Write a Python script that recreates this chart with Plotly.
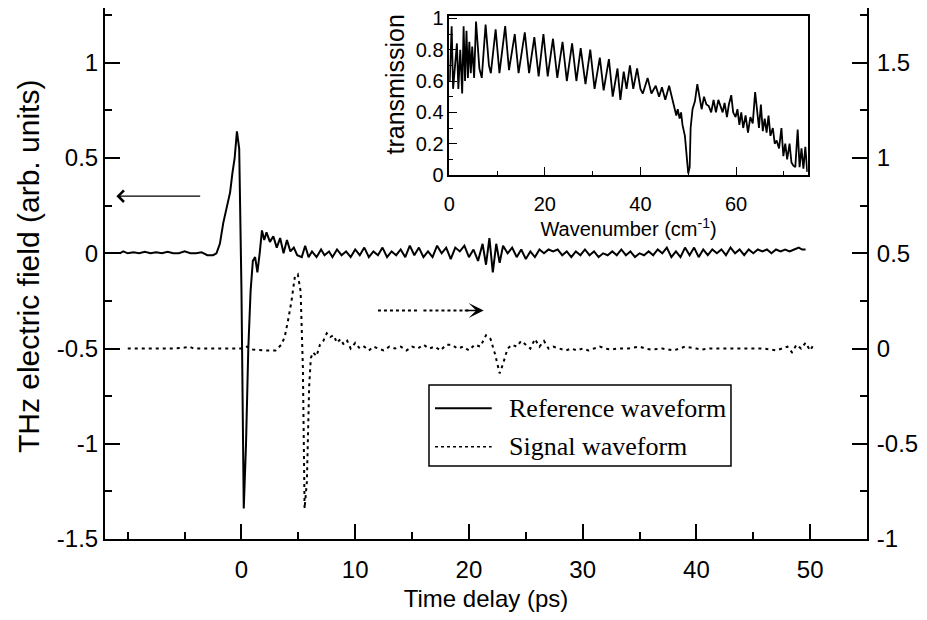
import plotly.graph_objects as go

# ---------------- data ----------------
t_ref = [-10.7, -10.4, -10.0, -9.5, -9.0, -8.5, -8.0, -7.5, -7.0, -6.5, -6.0, -5.5, -5.0, -4.5, -4.0, -3.5,
         -3.0, -2.5, -2.2, -1.9, -1.6, -1.3, -1.0, -0.8, -0.6, -0.4, -0.2, 0.0, 0.2, 0.4, 0.6, 0.8, 1.0,
         1.2, 1.4, 1.6, 1.8, 2.0, 2.2, 2.5, 2.8, 3.1, 3.4, 3.7, 4.0, 4.3, 4.6, 4.9, 5.3, 5.6, 5.9, 6.2,
         6.6, 7.0, 7.3, 7.7, 8.0, 8.4, 8.8, 9.2, 9.6, 10.0, 10.4, 10.8, 11.2, 11.6, 12.0, 12.4, 12.8,
         13.2, 13.6, 14.0, 14.4, 14.8, 15.2, 15.6, 16.0, 16.4, 16.8, 17.2, 17.6, 18.0, 18.4, 18.8, 19.2,
         19.6, 20.0, 20.4, 20.8, 21.2, 21.5, 21.8, 22.1, 22.4, 22.7, 23.0, 23.4, 23.8, 24.2, 24.6, 25.0,
         25.4, 25.8, 26.2, 26.6, 27.0, 27.4, 27.8, 28.2, 28.6, 29.0, 29.4, 29.8, 30.2, 30.6, 31.0, 31.4,
         31.8, 32.2, 32.6, 33.0, 33.4, 33.8, 34.2, 34.6, 35.0, 35.4, 35.8, 36.2, 36.6, 37.0, 37.4, 37.8,
         38.2, 38.6, 39.0, 39.4, 39.8, 40.2, 40.6, 41.0, 41.4, 41.8, 42.2, 42.6, 43.0, 43.4, 43.8, 44.2,
         44.6, 45.0, 45.4, 45.8, 46.2, 46.6, 47.0, 47.4, 47.8, 48.2, 48.6, 49.0, 49.3, 49.6]
e_ref = [0.0, 0.01, 0.0, 0.005, 0.0, 0.008, 0.0, 0.005, 0.0, 0.008, 0.0, 0.0, 0.01, 0.0, 0.0, 0.005,
         -0.01, -0.01, 0.0, 0.05, 0.16, 0.25, 0.32, 0.42, 0.5, 0.64, 0.55, -0.2, -1.34, -1.0, -0.5, -0.2, -0.04,
         -0.02, -0.1, 0.0, 0.12, 0.07, 0.11, 0.06, 0.09, 0.03, 0.08, 0.0, 0.07, 0.01, 0.03, -0.01, -0.02, 0.04, -0.02, 0.01,
         -0.02, 0.02, -0.01, 0.01, -0.02, 0.02, -0.01, 0.01, -0.02, 0.02, -0.01, 0.03, -0.02, 0.01, -0.01, 0.03, -0.02,
         0.01, -0.01, 0.02, -0.02, 0.04, -0.01, 0.03, -0.02, 0.01, -0.02, 0.04, 0.0, 0.03, -0.03, 0.03, 0.01,
         0.04, -0.02, 0.02, -0.04, 0.05, -0.06, 0.08, -0.10, 0.05, -0.05, 0.04, 0.0, 0.03, -0.02, 0.02, -0.03,
         0.01, -0.02, 0.02, 0.0, 0.02, 0.01, 0.02, -0.01, 0.01, -0.02, 0.01, -0.01, 0.02, -0.01, 0.01, -0.02,
         0.0, -0.01, 0.01, -0.01, 0.02, -0.01, 0.01, -0.02, 0.0, -0.01, 0.01, -0.01, 0.02, 0.0, 0.03, -0.02,
         0.01, -0.02, 0.03, -0.01, 0.03, -0.02, 0.02, -0.01, 0.02, 0.0, 0.02, -0.01, 0.03, 0.0, 0.02, -0.01,
         0.02, 0.0, 0.02, 0.01, 0.02, 0.0, 0.02, 0.01, 0.02, 0.01, 0.02, 0.03, 0.02, 0.02]

t_sig = [-10.0, -9.0, -8.0, -7.0, -6.0, -5.0, -4.6, -4.2, -3.0, -2.0, -1.0, 0.0, 0.5, 1.0, 2.0, 3.0,
         3.5, 3.8, 4.1, 4.4, 4.7, 4.95, 5.2, 5.4, 5.55, 5.75, 5.95, 6.1, 6.3, 6.6, 6.9, 7.2, 7.5, 7.8,
         8.1, 8.4, 8.7, 9.0, 9.3, 9.6, 10.0, 10.4, 10.8, 11.2, 11.6, 12.0, 12.5, 13.0, 13.5, 14.0, 14.5,
         15.0, 15.5, 16.0, 16.5, 17.0, 17.5, 18.0, 18.5, 19.0, 19.5, 20.0, 20.5, 21.0, 21.5, 21.9, 22.3,
         22.7, 23.0, 23.4, 23.8, 24.2, 24.6, 25.0, 25.4, 25.8, 26.2, 26.6, 27.0, 27.4, 28.0, 28.5, 29.0,
         29.5, 30.0, 30.5, 31.0, 31.5, 32.0, 32.5, 33.0, 34.0, 35.0, 35.5, 36.0, 37.0, 38.0, 38.5, 39.0,
         40.0, 40.5, 41.0, 42.0, 43.0, 44.0, 45.0, 46.0, 47.0, 47.5, 48.0, 48.4, 48.8, 49.2, 49.6, 50.0, 50.3]
e_sig = [0.0, 0.0, 0.0, 0.0, 0.0, 0.005, 0.01, 0.0, 0.0, 0.0, 0.0, 0.0, 0.01, -0.005, -0.01, -0.01,
         0.02, 0.06, 0.15, 0.25, 0.38, 0.39, 0.3, -0.1, -0.84, -0.7, -0.2, -0.05, -0.02, -0.04, 0.02, 0.04, 0.08, 0.06,
         0.07, 0.03, 0.05, 0.02, 0.04, 0.0, 0.03, 0.0, 0.01, -0.01, 0.01, 0.0, -0.01, 0.01, 0.0, 0.01, -0.01,
         0.01, 0.0, 0.02, 0.0, 0.01, -0.01, 0.02, 0.02, 0.0, 0.01, -0.01, 0.02, 0.01, 0.07, 0.05, -0.03,
         -0.13, -0.08, 0.0, 0.02, 0.01, 0.04, 0.02, 0.0, 0.05, 0.01, 0.04, 0.0, 0.01, 0.0, -0.01, 0.0,
         -0.01, 0.0, -0.01, 0.0, 0.01, 0.0, -0.005, 0.0, 0.0, 0.01, 0.0, -0.005, 0.0, -0.01, 0.0, 0.01,
         0.0, -0.005, 0.0, 0.0, 0.0, 0.0, 0.0, 0.0, -0.01, 0.0, 0.01, -0.02, 0.02, 0.0, 0.03, -0.01, 0.02]

wn = [0.1, 0.5, 0.8, 1.2, 1.6, 1.9, 2.3, 2.7, 3.0, 3.3, 3.6, 3.9, 4.2, 4.5, 4.8, 5.2, 5.6, 6.3, 6.8,
      7.6, 8.3, 8.7, 9.7, 10.5, 11.7, 12.5, 13.7, 14.5, 15.8, 16.7, 17.8, 18.7, 19.7, 20.6, 21.7, 22.6,
      23.7, 24.6, 25.7, 26.6, 27.5, 28.5, 29.5, 30.4, 31.5, 32.3, 33.4, 34.2, 35.2, 35.8, 36.5, 37.1,
      37.8, 38.5, 39.3, 40.0, 40.5, 41.5, 42.3, 43.2, 43.9, 44.5, 45.2, 46.0, 46.5, 47.0, 47.5, 47.8,
      48.2, 48.5, 48.8, 49.3, 49.7, 50.0, 50.3, 50.5, 50.9, 51.4, 51.9, 52.3, 52.8, 53.3, 53.8, 54.3,
      54.8, 55.3, 55.8, 56.3, 56.8, 57.2, 57.6, 58.1, 58.5, 59.0, 59.4, 59.9, 60.3, 60.7, 61.1, 61.5,
      62.0, 62.5, 63.0, 63.5, 64.0, 64.4, 64.8, 65.2, 65.6, 66.0, 66.4, 66.8, 67.2, 67.7, 68.1, 68.5,
      69.0, 69.5, 69.9, 70.3, 70.7, 71.2, 71.6, 72.0, 72.4, 72.9, 73.3, 73.7, 74.1, 74.5, 74.9]
trans = [0.6, 0.95, 0.55, 0.7, 0.84, 0.55, 0.8, 0.52, 0.95, 0.6, 0.92, 0.62, 0.85, 0.65, 0.82, 0.62, 0.98, 0.68, 0.62,
         0.96, 0.7, 0.65, 0.93, 0.65, 0.95, 0.67, 0.9, 0.65, 0.91, 0.65, 0.88, 0.63, 0.9, 0.63, 0.87, 0.62,
         0.85, 0.6, 0.84, 0.6, 0.81, 0.58, 0.8, 0.55, 0.75, 0.54, 0.74, 0.5, 0.68, 0.48, 0.66, 0.55,
         0.7, 0.55, 0.68, 0.55, 0.52, 0.62, 0.52, 0.57, 0.5, 0.56, 0.48, 0.57, 0.5, 0.45, 0.38, 0.42,
         0.36, 0.4, 0.32, 0.25, 0.1, 0.01, 0.05, 0.3, 0.42, 0.47, 0.58, 0.5, 0.42, 0.5, 0.45, 0.44,
         0.4, 0.48, 0.4, 0.48, 0.44, 0.4, 0.46, 0.37, 0.45, 0.51, 0.4, 0.37, 0.42, 0.32, 0.4, 0.3,
         0.38, 0.27, 0.37, 0.33, 0.53, 0.42, 0.3, 0.45, 0.28, 0.36, 0.27, 0.38, 0.25, 0.3, 0.2, 0.22,
         0.17, 0.3, 0.12, 0.2, 0.1, 0.2, 0.08, 0.06, 0.05, 0.29, 0.05, 0.17, 0.04, 0.18, 0.02]

x_ticks = [0, 10, 20, 30, 40, 50]
yl_ticks = [-1.5, -1, -0.5, 0, 0.5, 1]
yl_text = ["-1.5", "-1", "-0.5", "0", "0.5", "1"]
yr_ticks = [-1, -0.5, 0, 0.5, 1, 1.5]
yr_text = ["-1", "-0.5", "0", "0.5", "1", "1.5"]
inset_x_ticks = [0, 20, 40, 60]
inset_y_ticks = [0, 0.2, 0.4, 0.6, 0.8, 1]
inset_y_text = ["0", "0.2", "0.4", "0.6", "0.8", "1"]
legend_names = ["Reference waveform", "Signal waveform"]

SANS = "Liberation Sans, Arial, sans-serif"
SERIF = "Liberation Serif, Times New Roman, serif"
BLACK = "#000000"

fig = go.Figure()
fig.add_trace(go.Scatter(x=t_ref, y=e_ref, mode="lines", name=legend_names[0],
                         line=dict(color=BLACK, width=2), xaxis="x", yaxis="y", showlegend=False))
fig.add_trace(go.Scatter(x=t_sig, y=e_sig, mode="lines", name=legend_names[1],
                         line=dict(color=BLACK, width=2, dash="3px,4px"), xaxis="x", yaxis="y2", showlegend=False))
fig.add_trace(go.Scatter(x=wn, y=trans, mode="lines", name="transmission",
                         line=dict(color=BLACK, width=1.8), xaxis="x2", yaxis="y3", showlegend=False))

common = dict(showgrid=False, zeroline=False, showline=True, linecolor=BLACK, linewidth=2,
              ticks="inside", tickcolor=BLACK, tickwidth=1.5, automargin=False)
inset_common = {**common, "linewidth": 1.5, "tickwidth": 1.2}

# the page body adds an 8px offset, so the figure is sized to fit the 927x620 window exactly
fig.update_layout(
    width=911, height=604,
    margin=dict(l=97, r=52, t=0, b=73, autoexpand=False),
    paper_bgcolor="white", plot_bgcolor="white",
    font=dict(family=SANS, color=BLACK, size=24),
    xaxis=dict(domain=[0, 1], anchor="y", range=[-12, 55], tickvals=x_ticks,
               ticklen=15, mirror=True, ticklabelstandoff=8,
               minor=dict(dtick=5, tick0=0, ticklen=7, ticks="inside", tickcolor=BLACK, tickwidth=1.5),
               title=dict(text="Time delay (ps)", font=dict(size=24), standoff=8),
               tickfont=dict(size=24), **common),
    yaxis=dict(anchor="x", range=[-1.5, 1.288], tickvals=yl_ticks, ticktext=yl_text,
               ticklen=15, mirror=True,
               minor=dict(dtick=0.25, tick0=0, ticklen=7, ticks="inside", tickcolor=BLACK, tickwidth=1.5),
               tickfont=dict(size=24), **common),
    yaxis2=dict(anchor="x", overlaying="y", side="right", range=[-1, 1.788], tickvals=yr_ticks,
                ticktext=yr_text, ticklen=15, ticklabelstandoff=3,
                minor=dict(dtick=0.25, tick0=0, ticklen=7, ticks="inside", tickcolor=BLACK, tickwidth=1.5),
                tickfont=dict(size=24), **common),
    xaxis2=dict(domain=[0.4518, 0.9222], anchor="y3", range=[0, 75], tickvals=inset_x_ticks,
                ticklen=8, mirror=True, ticklabelstandoff=10,
                minor=dict(dtick=10, tick0=0, ticklen=4, ticks="inside", tickcolor=BLACK, tickwidth=1.2),
                title=dict(text="Wavenumber (cm<sup>-1</sup>)", font=dict(size=20), standoff=0),
                tickfont=dict(size=20), **inset_common),
    yaxis3=dict(domain=[0.6855, 0.9849], anchor="x2", range=[0, 1.015], tickvals=inset_y_ticks,
                ticktext=inset_y_text, ticklen=8, mirror=True, ticklabeloverflow="allow",
                minor=dict(dtick=0.1, tick0=0, ticklen=4, ticks="inside", tickcolor=BLACK, tickwidth=1.2),
                tickfont=dict(size=20), **inset_common),
)

# axis titles placed as in the reference
fig.add_annotation(x=-0.1010, y=0.5122, xref="paper", yref="paper", xanchor="center", yanchor="middle",
                   text="THz electric field (arb. units)", textangle=-90, showarrow=False,
                   font=dict(family=SANS, size=30, color=BLACK))
fig.add_annotation(x=0.3812, y=0.8569, xref="paper", yref="paper", xanchor="center", yanchor="middle",
                   text="transmission", textangle=-90, showarrow=False,
                   font=dict(family=SANS, size=25, color=BLACK))

# Arrows indicating the axis that each waveform belongs to
fig.add_annotation(x=-11.0, y=0.3, ax=-3.5, ay=0.3, xref="x", yref="y", axref="x", ayref="y",
                   showarrow=True, arrowhead=4, arrowsize=1.6, arrowwidth=1.4, arrowcolor=BLACK, text="")
fig.add_shape(type="line", xref="x", yref="y", x0=12.0, x1=15.6, y0=-0.3, y1=-0.3,
              line=dict(color=BLACK, width=2, dash="dot"))
fig.add_shape(type="line", xref="x", yref="y", x0=16.0, x1=20.0, y0=-0.3, y1=-0.3,
              line=dict(color=BLACK, width=2, dash="dot"))
fig.add_annotation(x=21.3, y=-0.3, ax=19.5, ay=-0.3, xref="x", yref="y", axref="x", ayref="y",
                   showarrow=True, arrowhead=3, arrowsize=1.8, arrowwidth=1.4, arrowcolor=BLACK, text="")

# Legend box (drawn in paper coordinates)
fig.add_shape(type="rect", xref="paper", yref="paper", x0=0.4252, x1=0.8215, y0=0.1375, y1=0.2900,
              line=dict(color=BLACK, width=1.5), fillcolor="white", layer="above")
fig.add_shape(type="line", xref="paper", yref="paper", x0=0.4331, x1=0.5075, y0=0.2461, y1=0.2461,
              line=dict(color=BLACK, width=2))
fig.add_shape(type="line", xref="paper", yref="paper", x0=0.4331, x1=0.5075, y0=0.1738, y1=0.1738,
              line=dict(color=BLACK, width=1.5, dash="dot"))
fig.add_annotation(x=0.5272, y=0.2461, xref="paper", yref="paper", xanchor="left", yanchor="middle",
                   text=legend_names[0], showarrow=False, font=dict(family=SERIF, size=26, color=BLACK))
fig.add_annotation(x=0.5272, y=0.1738, xref="paper", yref="paper", xanchor="left", yanchor="middle",
                   text=legend_names[1], showarrow=False, font=dict(family=SERIF, size=26, color=BLACK))

fig.write_html("out.html")
